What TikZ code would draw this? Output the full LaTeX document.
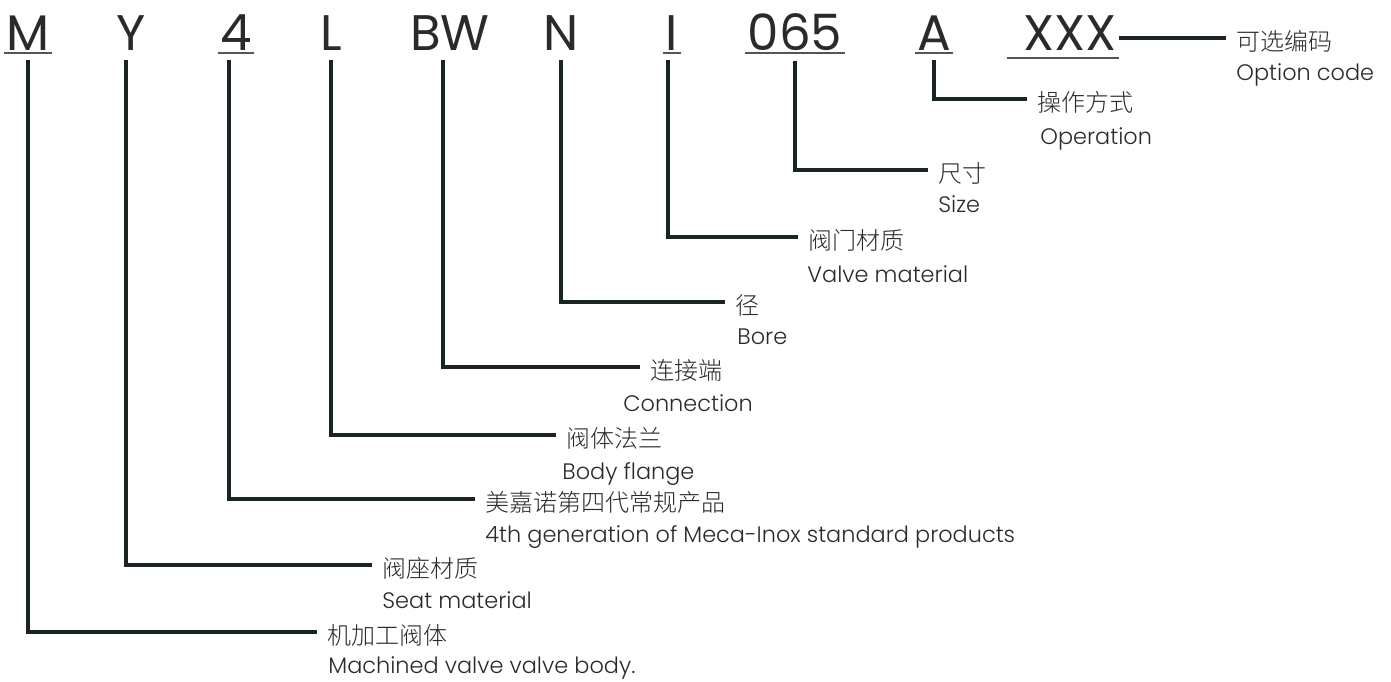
\documentclass[tikz,border=0pt]{standalone}
\usepackage{fontspec}
\IfFontExistsTF{Poppins Light}{\setmainfont{Poppins Light}}{\setmainfont{Poppins}}
\newfontfamily\codefont{Poppins}
\IfFontExistsTF{Noto Sans CJK SC Light}{\newfontfamily\cjk{Noto Sans CJK SC Light}}{\newfontfamily\cjk{Noto Sans CJK SC}}
\definecolor{leadcol}{HTML}{1B2424}
\definecolor{txtcol}{HTML}{2A2A2A}

\begin{document}
\begin{tikzpicture}[x=0.5pt, y=-0.5pt,
    code/.style={anchor=base, inner xsep=1pt, inner ysep=5pt, font=\codefont\fontsize{25}{25}\selectfont, text=txtcol},
    cnlabel/.style={anchor=west, inner xsep=5pt, inner ysep=0pt, text height=12pt, text depth=0pt, font=\cjk\fontsize{12}{12}\selectfont, text=txtcol},
    enlabel/.style={anchor=base west, inner sep=0pt, font=\fontsize{11.2}{11.2}\selectfont, text=txtcol},
    leader/.style={draw=leadcol, line width=2pt},
    uline/.style={draw=txtcol!80, line width=0.6pt}
]
\useasboundingbox (0,0) rectangle (1391,681);

% Code letters
\node[code] (cM) at (28,50) {M};
\node[code] (cY) at (131,50) {Y};
\node[code] (c4) at (236,50) {4};
\node[code] (cL) at (331,50) {L};
\node[code] (cBW) at (450,50) {BW};
\node[code] (cN) at (561,50) {N};
\node[code] (cI) at (672,50) {I};
\node[code] (c065) at (795,50) {065};
\node[code] (cA) at (934,50) {A};
\node[code] (cXXX) at (1070,50) {XXX};

% Underlines
\foreach \c in {cM,c4,cI,c065,cA}
  \draw[uline] ([yshift=-1.5pt]\c.base west) -- ([yshift=-1.5pt]\c.base east);
\draw[uline] ([xshift=-7pt,yshift=-4pt]cXXX.base west) -- ([yshift=-4pt]cXXX.base east);

% Labels
\node[cnlabel] (body) at (317,632) {机加工阀体};
\node[enlabel] (bodyen) at (328,673) {Machined valve valve body.};
\node[cnlabel] (seat) at (372,565) {阀座材质};
\node[enlabel] (seaten) at (382,608) {Seat material};
\node[cnlabel] (gen) at (475,499) {美嘉诺第四代常规产品};
\node[enlabel] (genen) at (485,542) {4th generation of Meca-Inox standard products};
\node[cnlabel] (flange) at (556,435) {阀体法兰};
\node[enlabel] (flangeen) at (562,479) {Body flange};
\node[cnlabel] (conn) at (640,367) {连接端};
\node[enlabel] (connen) at (623,411) {Connection};
\node[cnlabel] (bore) at (725,302) {径};
\node[enlabel] (boreen) at (737,344) {Bore};
\node[cnlabel] (valve) at (798,237) {阀门材质};
\node[enlabel] (valveen) at (807,282) {Valve material};
\node[cnlabel] (size) at (928,170) {尺寸};
\node[enlabel] (sizeen) at (938,212) {Size};
\node[cnlabel] (oper) at (1027,99) {操作方式};
\node[enlabel] (operen) at (1040,144) {Operation};
\node[cnlabel] (opt) at (1226,38) {可选编码};
\node[enlabel] (opten) at (1236,80) {Option code};

% Leaders
\draw[leader] (cM.south) |- (body.west);
\draw[leader] ([xshift=-2.5pt]cY.south) |- (seat.west);
\draw[leader] ([xshift=-3.5pt]c4.south) |- (gen.west);
\draw[leader] (cL.south) |- (flange.west);
\draw[leader] ([xshift=-3.5pt]cBW.south) |- (conn.west);
\draw[leader] (cN.south) |- (bore.west);
\draw[leader] ([xshift=-2pt]cI.south) |- (valve.west);
\draw[leader] (c065.south) |- (size.west);
\draw[leader] (cA.south) |- (oper.west);
\draw[leader] (cXXX.east |- opt.west) -- (opt.west);

\end{tikzpicture}
\end{document}
